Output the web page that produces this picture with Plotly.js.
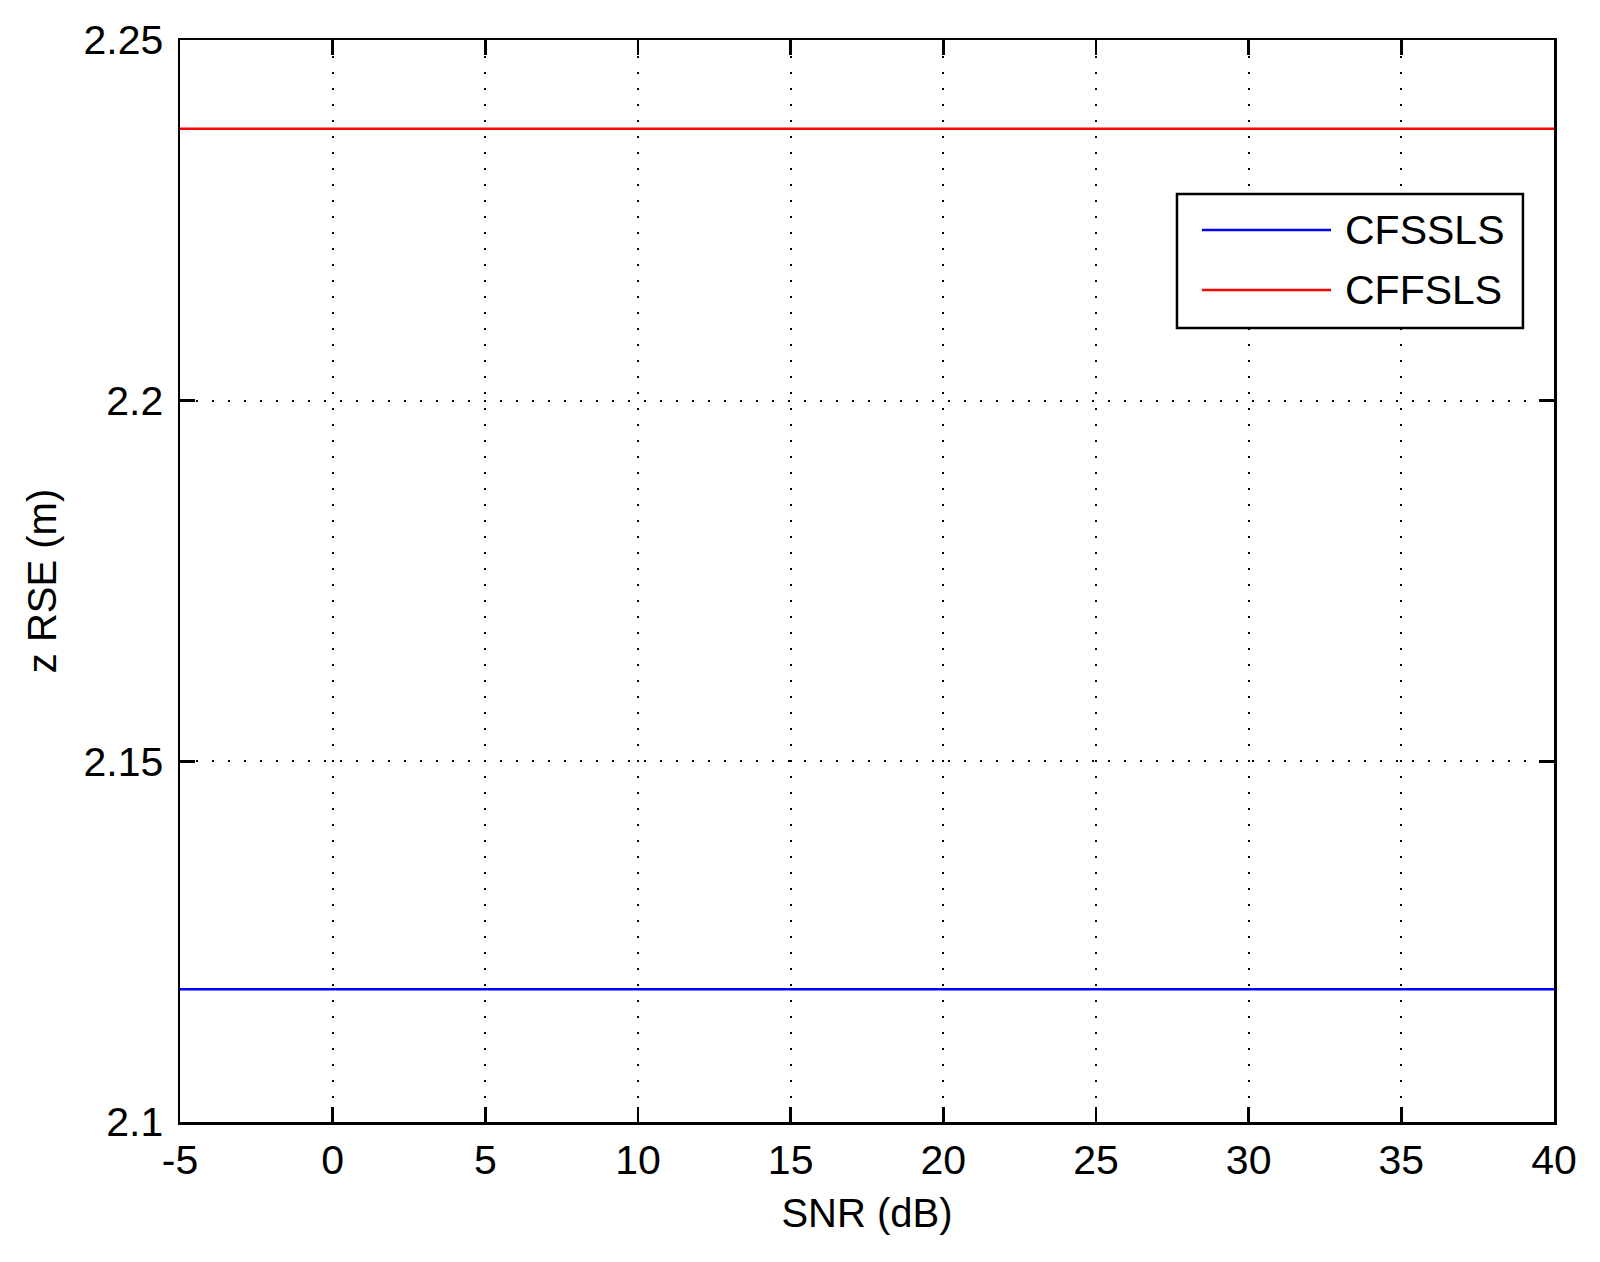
<!DOCTYPE html>
<html>
<head>
<meta charset="utf-8">
<script src="https://cdn.plot.ly/plotly-3.0.1.min.js"></script>
<style>html,body{margin:0;padding:0;background:#fff;}#chart{width:1600px;height:1262px;}</style>
</head>
<body>
<div id="chart"></div>
<script>
const snr = [-5, 0, 5, 10, 15, 20, 25, 30, 35, 40];
const cfssls = [2.1184, 2.1184, 2.1184, 2.1184, 2.1184, 2.1184, 2.1184, 2.1184, 2.1184, 2.1184];
const cffsls = [2.2377, 2.2377, 2.2377, 2.2377, 2.2377, 2.2377, 2.2377, 2.2377, 2.2377, 2.2377];
const seriesNames = ['CFSSLS', 'CFFSLS'];
const seriesColors = ['#0000ff', '#ff0000'];
const xTicks = [-5, 0, 5, 10, 15, 20, 25, 30, 35, 40];
const yTicks = [2.1, 2.15, 2.2, 2.25];
const yTickText = ['2.1', '2.15', '2.2', '2.25'];

const FONT = 'Liberation Sans, Arial, Helvetica, sans-serif';

const traces = [
  {x: snr, y: cfssls, name: seriesNames[0], mode: 'lines', line: {color: seriesColors[0], width: 2.5}},
  {x: snr, y: cffsls, name: seriesNames[1], mode: 'lines', line: {color: seriesColors[1], width: 2.5}}
];

// legend geometry (paper coords)
const lx0 = 0.7256, lx1 = 0.9774, ly0 = 0.7338, ly1 = 0.8577;
const rowY = [0.8244, 0.7689];
const shapes = [
  {type: 'rect', xref: 'paper', yref: 'paper', x0: lx0, x1: lx1, y0: ly0, y1: ly1,
   line: {color: '#000', width: 2.5}, fillcolor: '#fff', layer: 'above'}
];
const annotations = [];
seriesNames.forEach((n, i) => {
  shapes.push({type: 'line', xref: 'paper', yref: 'paper', x0: 0.7438, x1: 0.8377, y0: rowY[i], y1: rowY[i],
    line: {color: seriesColors[i], width: 2.5}, layer: 'above'});
  annotations.push({xref: 'paper', yref: 'paper', x: 0.8464, y: rowY[i], xanchor: 'left', yanchor: 'middle',
    text: n, showarrow: false, font: {family: FONT, size: 41, color: '#000'}});
});

const layout = {
  width: 1600, height: 1262,
  margin: {l: 180, r: 46, t: 40, b: 140},
  paper_bgcolor: '#fff', plot_bgcolor: '#fff',
  showlegend: false,
  font: {family: FONT, size: 42, color: '#000'},
  xaxis: {
    range: [-5, 40], tickvals: xTicks, ticktext: xTicks.map(String),
    ticks: 'inside', ticklen: 15, tickwidth: 2.5, tickcolor: '#000',
    showline: true, linecolor: '#000', linewidth: 2.5, mirror: 'ticks',
    showgrid: true, gridcolor: '#000', gridwidth: 2, griddash: '2px,14px',
    zeroline: false, ticklabelstandoff: 0,
    tickfont: {family: FONT, size: 41, color: '#000'},
    title: {text: 'SNR (dB)', font: {family: FONT, size: 40, color: '#000'}, standoff: 18}
  },
  yaxis: {
    range: [2.1, 2.25], tickvals: yTicks, ticktext: yTickText,
    ticks: 'inside', ticklen: 15, tickwidth: 2.5, tickcolor: '#000',
    showline: true, linecolor: '#000', linewidth: 2.5, mirror: 'ticks',
    showgrid: true, gridcolor: '#000', gridwidth: 2, griddash: '2px,14px',
    zeroline: false, ticklabelstandoff: 6,
    tickfont: {family: FONT, size: 41, color: '#000'},
    title: {text: 'z RSE (m)', font: {family: FONT, size: 40, color: '#000'}, standoff: 15}
  },
  shapes: shapes,
  annotations: annotations
};

Plotly.newPlot('chart', traces, layout, {displayModeBar: false, staticPlot: true});
</script>
</body>
</html>
